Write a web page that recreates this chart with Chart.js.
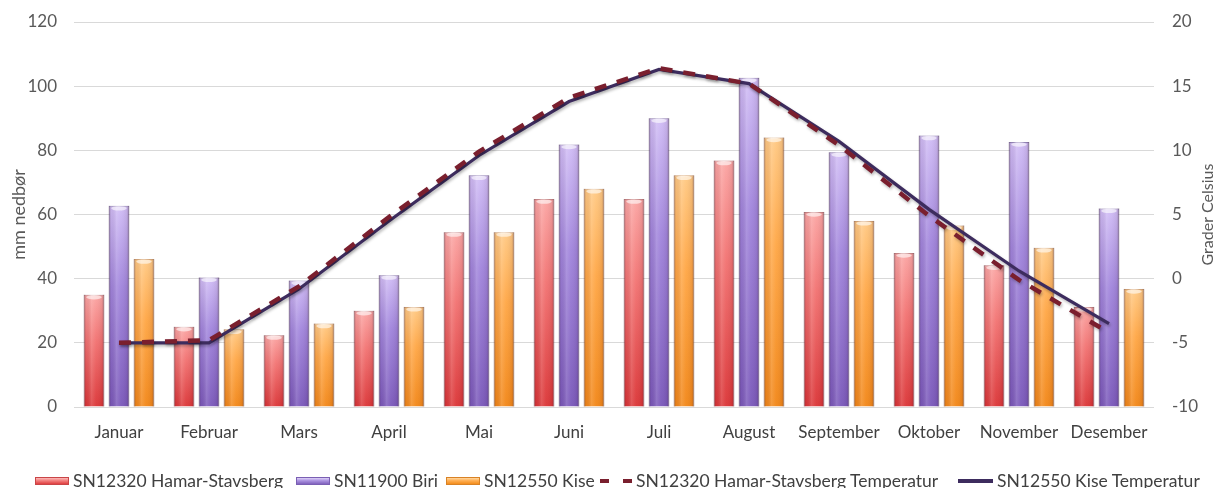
<!DOCTYPE html>
<html lang="no">
<head>
<meta charset="utf-8">
<title>Nedbør og temperatur</title>
<script src="https://cdn.jsdelivr.net/npm/chart.js@4.4.1/dist/chart.umd.min.js"></script>
<style>
  html, body { margin: 0; padding: 0; background: #ffffff; }
  #wrap { position: relative; width: 1213px; height: 488px; overflow: hidden; background: #ffffff; }
  #c { position: absolute; left: 0; top: 0; }
  .lg { position: absolute; top: 472px; height: 18px; display: flex; align-items: center;
        font-family: Lato, "Open Sans", sans-serif; font-size: 17.5px; line-height: 18px; color: #404040; white-space: nowrap; }
  .box { width: 34px; height: 8px; margin-right: 4px; box-sizing: border-box; }
  .mk { width: 32px; height: 4px; margin-right: 4px; }
</style>
</head>
<body>
<div id="wrap">
  <canvas id="c" width="1213" height="488"></canvas>
  <div class="lg" style="left:35px"><span class="box" style="background:linear-gradient(#fcbab8,#f27e7d 45%,#df3e40);border:1px solid #c94547"></span>SN12320 Hamar-Stavsberg</div>
  <div class="lg" style="left:296px"><span class="box" style="background:linear-gradient(#ddd0f8,#ab92e0 45%,#8062bd);border:1px solid #7a5fb3"></span>SN11900 Biri</div>
  <div class="lg" style="left:446px"><span class="box" style="background:linear-gradient(#ffd7a0,#ffae52 45%,#f38d1c);border:1px solid #d98225"></span>SN12550 Kise</div>
  <div class="lg" style="left:600px"><span class="mk" style="background:repeating-linear-gradient(90deg,#7a1f2e 0 9px,transparent 9px 23px)"></span>SN12320 Hamar-Stavsberg Temperatur</div>
  <div class="lg" style="left:958px"><span class="mk" style="width:35px;background:#3d2c5e"></span>SN12550 Kise Temperatur</div>
</div>
<script>
// Månedlige normaler: nedbør (mm) og temperatur (°C)
const maaneder = ['Januar', 'Februar', 'Mars', 'April', 'Mai', 'Juni', 'Juli', 'August', 'September', 'Oktober', 'November', 'Desember'];

const nedborHamar = [35, 25, 22.4, 30, 54.5, 64.8, 64.8, 76.8, 60.8, 48, 44.2, 31.2];
const nedborBiri  = [62.7, 40.4, 39.4, 41.1, 72.2, 81.8, 90, 102.6, 79.4, 84.6, 82.6, 61.9];
const nedborKise  = [46.1, 24.2, 26, 31.2, 54.5, 68, 72.2, 84, 58, 56.6, 49.6, 36.8];

const tempHamar = [-5.0, -4.8, -0.6, 4.8, 9.9, 14.1, 16.4, 15.2, 10.4, 4.9, -0.1, -4.2];
const tempKise  = [-5.0, -5.0, -0.8, 4.5, 9.6, 13.8, 16.3, 15.2, 10.7, 5.4, 0.6, -3.5];

const nedborTicks = { min: 0, max: 120, step: 20 };
const tempTicks = { min: -10, max: 20, step: 5 };

const FONT = 'Lato, "Open Sans", sans-serif';
const GREY = '#595959';

// Vertikal fargeovergang for hver søyle, fra lys topp til mettet bunn
function barFill(top, mid, bottom) {
  return (ctx) => {
    const chart = ctx.chart;
    const ys = chart.scales && chart.scales.y;
    if (!ys || !chart.chartArea || ctx.raw === undefined) return mid;
    const y0 = ys.getPixelForValue(ctx.raw);
    const y1 = ys.getPixelForValue(0);
    if (!isFinite(y0) || !isFinite(y1) || y1 - y0 < 1) return mid;
    const g = chart.ctx.createLinearGradient(0, y0, 0, y1);
    g.addColorStop(0, top);
    g.addColorStop(0.4, mid);
    g.addColorStop(1, bottom);
    return g;
  };
}

// Sylinderskygge og lys topp på søylene
const cylinderShade = {
  id: 'cylinderShade',
  afterDatasetDraw(chart, args) {
    const meta = args.meta;
    if (meta.type !== 'bar') return;
    const c = chart.ctx;
    c.save();
    meta.data.forEach((el) => {
      const p = el.getProps(['x', 'y', 'base', 'width'], true);
      const left = p.x - p.width / 2;
      const h = p.base - p.y;
      if (h <= 0) return;
      const g = c.createLinearGradient(left, 0, left + p.width, 0);
      g.addColorStop(0, 'rgba(50,20,40,0.32)');
      g.addColorStop(0.12, 'rgba(50,20,40,0.06)');
      g.addColorStop(0.38, 'rgba(255,255,255,0.16)');
      g.addColorStop(0.6, 'rgba(255,255,255,0.04)');
      g.addColorStop(0.88, 'rgba(50,20,40,0.08)');
      g.addColorStop(1, 'rgba(50,20,40,0.34)');
      c.fillStyle = g;
      c.fillRect(left, p.y, p.width, h);
      c.fillStyle = 'rgba(255,255,255,0.6)';
      c.beginPath();
      c.ellipse(p.x, p.y + 2.5, p.width / 2 - 2.5, 2.2, 0, 0, Math.PI * 2);
      c.fill();
    });
    c.restore();
  }
};

// Svak skygge under temperaturkurvene
const lineShadow = {
  id: 'lineShadow',
  beforeDatasetDraw(chart, args) {
    if (args.meta.type !== 'line') return;
    const c = chart.ctx;
    c.save();
    c.shadowColor = 'rgba(0,0,0,0.28)';
    c.shadowBlur = 3;
    c.shadowOffsetX = 1;
    c.shadowOffsetY = 2;
  },
  afterDatasetDraw(chart, args) {
    if (args.meta.type !== 'line') return;
    chart.ctx.restore();
  }
};

// Aksetittel for høyre akse, lest nedenfra og opp
const rightTitle = {
  id: 'rightTitle',
  afterDraw(chart) {
    const c = chart.ctx;
    const a = chart.chartArea;
    c.save();
    c.translate(1208, (a.top + a.bottom) / 2);
    c.rotate(-Math.PI / 2);
    c.font = '16px ' + FONT;
    c.fillStyle = GREY;
    c.textAlign = 'center';
    c.textBaseline = 'middle';
    c.fillText('Grader Celsius', 0, 0);
    c.restore();
  }
};

// Faste aksebredder; ingen ekstra luft over og under verdiaksene
const fixWidth = (w) => (s) => { s.width = w; s.paddingTop = 0; s.paddingBottom = 0; };

new Chart(document.getElementById('c'), {
  data: {
    labels: maaneder,
    datasets: [
      {
        type: 'line', label: 'SN12320 Hamar-Stavsberg Temperatur', data: tempHamar, yAxisID: 'y1',
        borderColor: '#7a1f2e', borderWidth: 4.5, borderDash: [12, 11], pointRadius: 0, tension: 0, order: 0
      },
      {
        type: 'line', label: 'SN12550 Kise Temperatur', data: tempKise, yAxisID: 'y1',
        borderColor: '#3d2c5e', borderWidth: 3.2, pointRadius: 0, tension: 0, order: 1
      },
      {
        type: 'bar', label: 'SN12320 Hamar-Stavsberg', data: nedborHamar, yAxisID: 'y',
        backgroundColor: barFill('#fba5a3', '#f27372', '#db3537'),
        borderColor: 'rgba(160,40,40,0.55)', borderWidth: 1, order: 2
      },
      {
        type: 'bar', label: 'SN11900 Biri', data: nedborBiri, yAxisID: 'y',
        backgroundColor: barFill('#d0bcf5', '#a185dc', '#7a58ba'),
        borderColor: 'rgba(80,55,140,0.6)', borderWidth: 1, order: 2
      },
      {
        type: 'bar', label: 'SN12550 Kise', data: nedborKise, yAxisID: 'y',
        backgroundColor: barFill('#ffc983', '#ffa746', '#f28718'),
        borderColor: 'rgba(190,110,30,0.6)', borderWidth: 1, order: 2
      }
    ]
  },
  options: {
    responsive: false,
    animation: false,
    events: [],
    layout: { padding: { top: 22, left: 0, right: 0, bottom: 36 } },
    datasets: { bar: { categoryPercentage: 0.833, barPercentage: 0.82 } },
    plugins: { legend: { display: false }, tooltip: { enabled: false } },
    scales: {
      x: {
        offset: true,
        grid: { display: false },
        border: { display: false },
        ticks: { color: '#404040', font: { family: FONT, size: 17 }, padding: 7, maxRotation: 0, autoSkip: false },
        afterFit: (s) => { s.height = 45; }
      },
      y: {
        position: 'left',
        min: nedborTicks.min, max: nedborTicks.max,
        ticks: { stepSize: nedborTicks.step, color: GREY, font: { family: FONT, size: 17 }, padding: 17 },
        grid: { color: '#d9d9d9', lineWidth: 1, drawTicks: false },
        border: { display: false },
        title: { display: true, text: 'mm nedbør', color: GREY, font: { family: FONT, size: 18 }, padding: { top: 8, bottom: 0 } },
        afterFit: fixWidth(74)
      },
      y1: {
        position: 'right',
        min: tempTicks.min, max: tempTicks.max,
        ticks: { stepSize: tempTicks.step, color: GREY, font: { family: FONT, size: 17 }, padding: 18 },
        grid: { drawOnChartArea: false, drawTicks: false },
        border: { display: false },
        afterFit: fixWidth(59)
      }
    }
  },
  plugins: [cylinderShade, lineShadow, rightTitle]
});
</script>
</body>
</html>
